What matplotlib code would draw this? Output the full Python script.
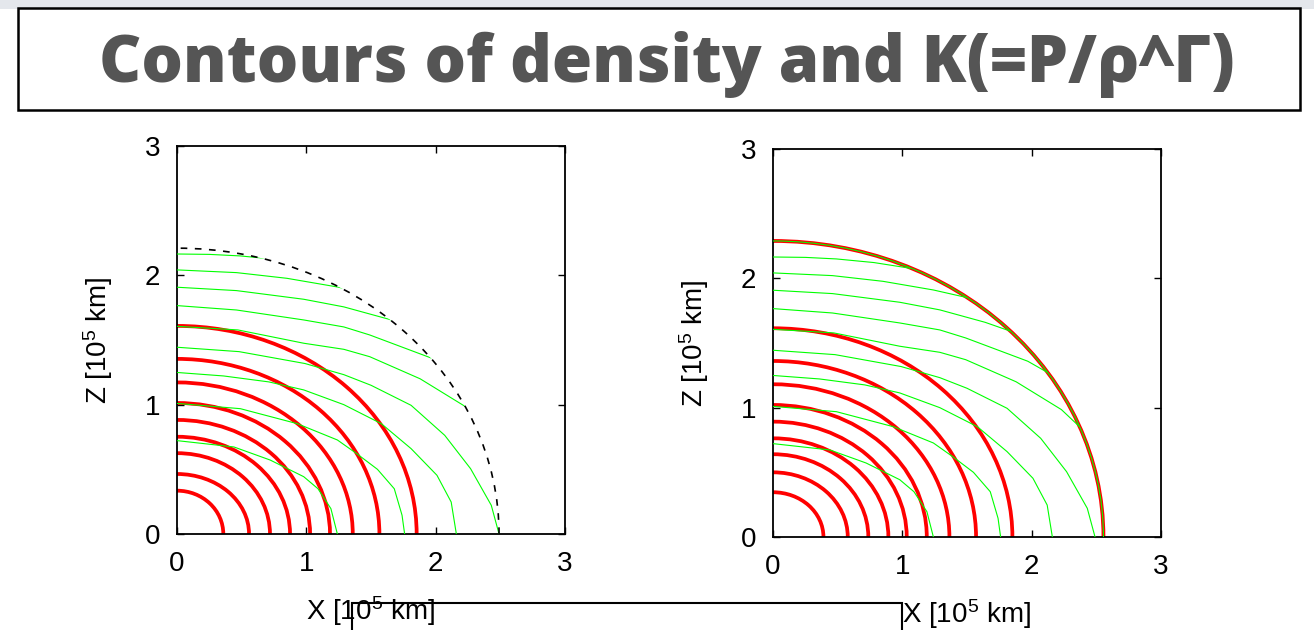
import numpy as np
import matplotlib
matplotlib.use('Agg')
import matplotlib.pyplot as plt
from matplotlib.patches import Arc, Ellipse, Rectangle

plt.rcParams['font.family'] = ['Liberation Sans', 'DejaVu Sans']
plt.rcParams['mathtext.fontset'] = 'custom'
plt.rcParams['mathtext.rm'] = 'Liberation Sans'
plt.rcParams['mathtext.it'] = 'Liberation Sans:italic'

## density contours: semi-axes along X and Z [1e5 km]
rho_ax_left = [0.358, 0.557, 0.719, 0.874, 1.029, 1.183, 1.359, 1.565, 1.853]
rho_az_left = [0.335, 0.464, 0.625, 0.752, 0.882, 1.013, 1.172, 1.354, 1.609]
rho_ax_right = [0.390, 0.578, 0.737, 0.892, 1.034, 1.189, 1.364, 1.570, 1.851]
rho_az_right = [0.346, 0.500, 0.640, 0.763, 0.892, 1.021, 1.181, 1.361, 1.614]

## stellar surface (X, Z semi-axes)
surf_left = (2.49, 2.21)
surf_right = (2.555, 2.289)

## K contours, X and Z of each line
k_x = [
    [0, 0.25, 0.49, 0.78, 1.06],
    [0, 0.46, 0.85, 1.24, 1.50],
    [0, 0.46, 0.98, 1.29, 1.64, 1.84],
    [0, 0.46, 0.98, 1.29, 1.49, 1.97, 2.13],
    [0, 0.47, 0.98, 1.29, 1.49, 1.88, 2.23, 2.37],
    [0, 0.48, 0.99, 1.29, 1.50, 1.81, 2.07, 2.27, 2.43, 2.49],
    [0, 0.36, 0.71, 0.98, 1.29, 1.58, 1.81, 2.01, 2.12, 2.16],
    [0, 0.49, 0.93, 1.24, 1.39, 1.55, 1.68, 1.74, 1.76],
    [0, 0.44, 0.72, 0.98, 1.09, 1.19, 1.24],
]
k_z = [
    [2.165, 2.162, 2.150, 2.122, 2.078],
    [2.042, 2.021, 1.977, 1.910, 1.851],
    [1.908, 1.882, 1.815, 1.756, 1.660, 1.590],
    [1.766, 1.732, 1.655, 1.601, 1.539, 1.359, 1.268],
    [1.606, 1.578, 1.475, 1.428, 1.371, 1.200, 0.985, 0.853],
    [1.444, 1.410, 1.318, 1.232, 1.150, 0.995, 0.763, 0.505, 0.222, 0.0],
    [1.249, 1.222, 1.176, 1.114, 1.000, 0.853, 0.660, 0.454, 0.247, 0.0],
    [1.010, 0.969, 0.853, 0.727, 0.621, 0.500, 0.350, 0.145, 0.0],
    [0.722, 0.673, 0.572, 0.443, 0.350, 0.196, 0.0],
]

ticks = [0, 1, 2, 3]
RED = '#ff0000'
GREEN = '#00ff00'

W, H = 1314, 630
fig = plt.figure(figsize=(W/100, H/100), dpi=100)
fig.patch.set_facecolor('white')

# slide strip and title box
fig.patches.append(Rectangle((0, 1 - 9/H), 1, 9/H, transform=fig.transFigure,
                             facecolor='#e4e7ec', edgecolor='none', zorder=0))
fig.patches.append(Rectangle((18/W, 1 - 110/H), 1282/W, 102/H, transform=fig.transFigure,
                             facecolor='white', edgecolor='black', lw=1.8, zorder=1))
fig.text(667/W, 1 - 64/H, 'Contours of density and K(=P/ρ^Γ)', ha='center', va='center',
         fontsize=47, fontweight='heavy', color='#555555', family=['Open Sans', 'DejaVu Sans'])


def panel(ax, ax_, az_, surf, dashed):
    ax.set_xlim(0, 3)
    ax.set_ylim(0, 3)
    ax.set_xticks(ticks)
    ax.set_yticks(ticks)
    ax.tick_params(direction='in', length=5, width=1, top=True, right=True,
                   labelsize=20, pad=12)
    for s in ax.spines.values():
        s.set_linewidth(1.3)
    ax.set_xlabel(r'X [10$^5$ km]', fontsize=20)
    ax.set_ylabel(r'Z [10$^5$ km]', fontsize=20)
    ax.xaxis.set_label_coords(0.5, -0.155)
    ax.yaxis.set_label_coords(-0.16, 0.5)

    for a, b in zip(ax_, az_):
        ax.add_patch(Arc((0, 0), 2*a, 2*b, theta1=0, theta2=90, color=RED, lw=2.7, zorder=2))

    clip = Ellipse((0, 0), 2*surf[0], 2*surf[1], facecolor='none', edgecolor='none')
    ax.add_patch(clip)
    for xs, zs in zip(k_x, k_z):
        ln, = ax.plot(xs, zs, color=GREEN, lw=0.8, zorder=3)
        ln.set_clip_path(clip)

    if dashed:
        ax.add_patch(Arc((0, 0), 2*surf[0], 2*surf[1], theta1=0, theta2=90, color='black',
                         lw=1.2, linestyle=(0, (4, 4.5)), zorder=4))
    else:
        ax.add_patch(Arc((0, 0), 2*surf[0], 2*surf[1], theta1=0, theta2=90, color=RED, lw=2.7, zorder=2))
        ax.add_patch(Arc((0, 0), 2*surf[0], 2*surf[1], theta1=0, theta2=90, color=GREEN, lw=0.8, zorder=3))


ax1 = fig.add_axes([177/W, 1 - 534/H, 388/W, 388/H])
panel(ax1, rho_ax_left, rho_az_left, surf_left, True)
ax2 = fig.add_axes([773/W, 1 - 537/H, 388/W, 388/H])
panel(ax2, rho_ax_right, rho_az_right, surf_right, False)

# slide box edge at the bottom
fig.patches.append(Rectangle((352/W, -0.1), 550/W, 0.1 + 27/H, transform=fig.transFigure,
                             facecolor='none', edgecolor='black', lw=1.5, zorder=5))

fig.savefig('out.png', dpi=100)
